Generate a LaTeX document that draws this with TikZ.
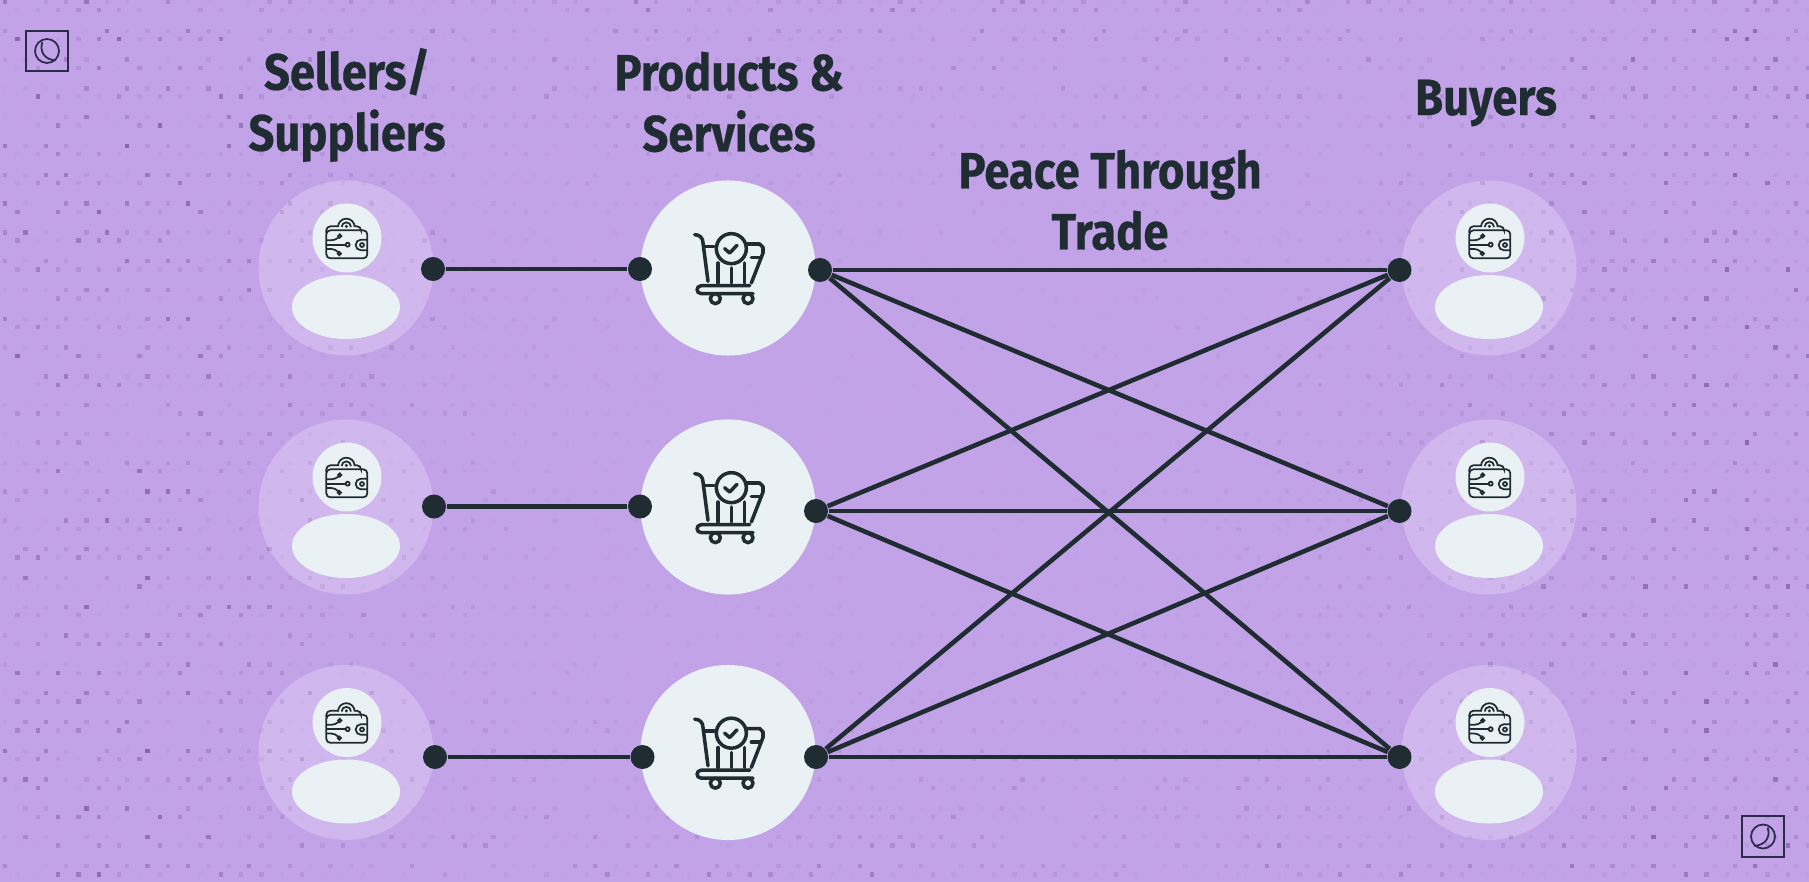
\documentclass[tikz,border=0pt]{standalone}
\usepackage{fontspec}
\setmainfont{Fira Sans}[BoldFeatures={FakeStretch=0.89,FakeBold=0.5}]
\definecolor{bgpurple}{HTML}{C3A3E8}
\definecolor{speck}{HTML}{7F5AA8}
\definecolor{pale}{HTML}{EAF1F4}
\definecolor{ink}{HTML}{1F2D33}
\definecolor{logoink}{HTML}{2A2A4A}
\tikzset{
	port/.style={circle, fill=ink, inner sep=0pt, minimum size=0.24cm},
	disk/.style={circle, fill=pale, inner sep=0pt, minimum size=1.75cm},
	wire/.style={draw=ink, line width=1.3pt},
	heading/.style={text=ink, align=center, inner sep=0pt, font=\fontsize{14.5}{17.35}\selectfont\bfseries},
	icon/.style={draw=ink, line width=0.5pt, rounded corners=0.04cm},
	cartline/.style={draw=ink, line width=1pt, line cap=round, line join=round},
	person/.pic={
		\fill[white, fill opacity=0.22] (0,0) circle (87.5);
		\fill[pale] (1,-30) circle (34.5);
		\fill[pale] (0,39) ellipse (54 and 32);
		\pic at (1,-30) {wallet};
	},
	wallet/.pic={
		\begin{scope}[scale=0.3333]
			\draw[icon] (-62,-23) rectangle (61,61);
			\draw[icon] (-62,-15) -- (-62,-35) -- (-27,-35);
			\draw[icon] (23,-35) -- (42,-35) -- (42,-23);
			% fingerprint
			\draw[draw=ink, line width=0.5pt] (-27,-33) arc (180:360:25);
			\draw[draw=ink, line width=0.5pt] (-16,-33) arc (180:360:14);
			\fill[ink] (-2,-35) circle (5);
			% clasp
			\draw[draw=ink, line width=0.5pt] (61,5) -- (42,5) arc (270:90:16) -- (61,37);
			\draw[draw=ink, line width=0.5pt] (45,21) circle (6);
			% traces
			\draw[icon] (-62,7) -- (-35,7) -- (-25,-2);
			\draw[draw=ink, line width=0.5pt] (-22,-6) circle (5);
			\draw[icon] (-62,20) -- (-4,20);
			\draw[draw=ink, line width=0.5pt] (2,20) circle (6);
			\draw[icon] (-62,33) -- (-35,33) -- (-26,43);
			\draw[draw=ink, line width=0.5pt] (-23,47) circle (5);
		\end{scope}
	},
	cart/.pic={
		\begin{scope}[scale=0.3333]
			\draw[cartline] (-100,-100) .. controls (-85,-100) and (-75,-90) .. (-75,-75) -- (-60,40);
			\draw[cartline] (-72,-65) -- (-42,-65);
			\draw[cartline] (10,-58) circle (45);
			\draw[cartline] (-10,-58) -- (5,-45) -- (27,-68);
			\draw[cartline] (55,-72) -- (95,-72) -- (105,-62) -- (105,-45) -- (70,45);
			\draw[cartline] (70,-32) -- (95,-32);
			\draw[cartline] (-30,-15) -- (-30,45);
			\draw[cartline] (10,0) -- (10,45);
			\draw[cartline] (50,-15) -- (50,45);
			\draw[cartline] (65,53) -- (-80,53) .. controls (-97,53) and (-97,77) .. (-80,77) -- (75,77);
			\draw[cartline] (-38,92) circle (15);
			\draw[cartline] (60,92) circle (15);
		\end{scope}
	},
	logo/.pic={
		\draw[logoink, line width=0.5pt] (0,0) circle (12);
		\draw[logoink, line width=0.5pt] (-4.7,-9) .. controls (-8,2) and (-1,9) .. (8.7,9.3);
	}
}
\begin{document}
\begin{tikzpicture}[x=0.01cm, y=-0.01cm]
	\useasboundingbox (0,0) rectangle (1809,882);
	\fill[bgpurple] (0,0) rectangle (1809,882);
	% speckled backdrop, stronger near the edges
	\pgfmathsetseed{11}
	\begin{scope}
		\clip (0,0) rectangle (1809,882);
		\foreach \j in {0,...,30}
		{
			\foreach \i in {0,...,89}
			{
				\pgfmathsetmacro{\xa}{\i*20.35+5}
				\pgfmathsetmacro{\ya}{\j*28.8+2}
				\pgfmathsetmacro{\edge}{min(1, 0.04+1.5*pow(max(abs(\xa-905)/905, 0.7*abs(\ya-441)/441),2.5))}
				\pgfmathsetmacro{\ta}{90*rnd*rnd*\edge}
				\pgfmathsetmacro{\tb}{90*rnd*rnd*\edge}
				\fill[speck!\ta!bgpurple] (\xa-2.2,\ya-2.2) rectangle ++(4.4,4.4);
				\fill[speck!\tb!bgpurple] (\xa-10.2,\ya+6.1) rectangle ++(4.4,4.4);
			}
		}
	\end{scope}
	% corner marks
	\draw[logoink, line width=0.6pt] (26,31) rectangle (68,71);
	\pic at (47,51) {logo};
	\draw[logoink, line width=0.6pt] (1742,816) rectangle (1784,857);
	\pic[xscale=-1] at (1763,836.5) {logo};
	% sellers and buyers
	\foreach \y in {268,507,752.5}
	{
		\pic at (346,\y) {person};
		\pic at (1489,\y) {person};
	}
	% products
	\foreach \n/\y in {1/268,2/507,3/752.5}
	{
		\node[disk] (disk\n) at (728,\y) {};
		\pic at (728,\y) {cart};
	}
	% ports
	\foreach \n/\y/\ya/\xa/\xb/\xc in {1/269/270/433/640/820,2/506.5/511/434/640/816,3/757/757/435/642.5/816}
	{
		\node[port] (sell\n) at (\xa,\y) {};
		\node[port] (prodin\n) at (\xb,\y) {};
		\node[port] (prodout\n) at (\xc,\ya) {};
		\node[port] (buy\n) at (1399.5,\ya) {};
		\draw[wire] (sell\n) -- (prodin\n);
	}
	% every product reaches every buyer
	\foreach \a in {1,2,3}
	{
		\foreach \b in {1,2,3}
		{
			\draw[wire] (prodout\a) -- (buy\b);
		}
	}
	% headings
	\node[heading] (sellers) at (347,105) {Sellers/\\Suppliers};
	\node[heading] (products) at (729,102) {Products \&\\Services};
	\node[heading] (peace) at (1110,200) {Peace Through\\Trade};
	\node[heading] (buyers) at (1486,103) {Buyers};
\end{tikzpicture}
\end{document}
